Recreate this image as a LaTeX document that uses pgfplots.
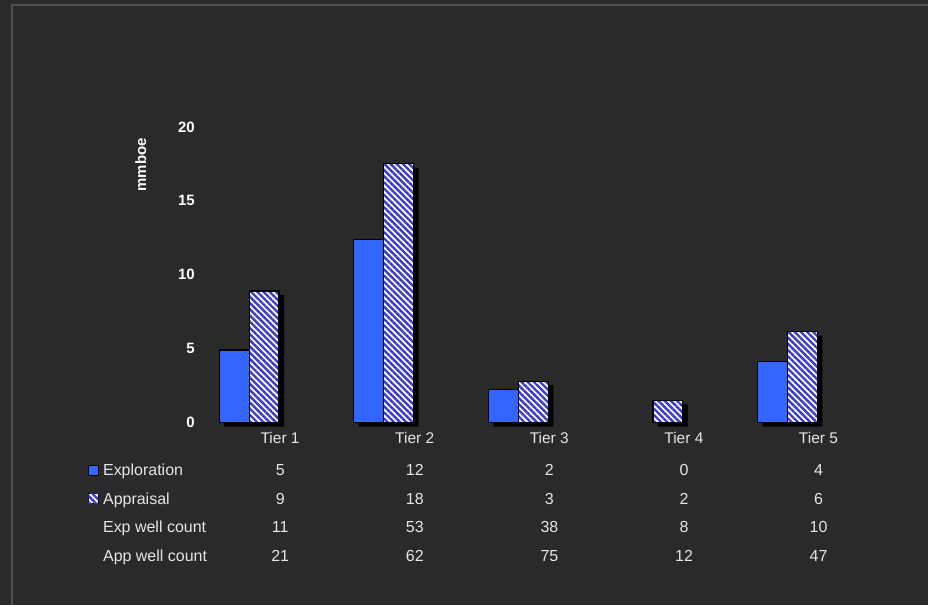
\documentclass[border=0pt]{standalone}
\usepackage{pgfplots}
\pgfplotsset{compat=1.18}
\usepackage{fontspec}
\setmainfont{Liberation Sans}
\usetikzlibrary{patterns.meta}
\definecolor{bg}{HTML}{2A2A2A}
\definecolor{frame}{HTML}{505050}
\definecolor{expblue}{HTML}{3366FF}
\definecolor{hatchblue}{RGB}{60,60,200}
\definecolor{txt}{HTML}{E6E6E6}
\tikzset{hatch/.style={fill=white, postaction={pattern={Lines[angle=-45,distance=4.4pt,line width=2.4pt]}, pattern color=hatchblue}}}
\begin{document}
\begin{tikzpicture}[x=1pt,y=1pt]
\fill[bg] (0,0) rectangle (929,606);
\draw[frame, line width=2pt] (12.5,0) -- (12.5,600.5) -- (929,600.5);
\begin{axis}[
  at={(182pt,183pt)}, anchor=south west,
  scale only axis, width=673.75pt, height=296pt,
  xmin=-0.5, xmax=4.5, ymin=0, ymax=20,
  axis line style={draw=none},
  major tick length=0pt,
  clip=false,
  ytick={0,5,10,15,20},
  xtick={0,1,2,3,4},
  xticklabels={Tier 1,Tier 2,Tier 3,Tier 4,Tier 5},
  /pgf/number format/assume math mode=true,
  yticklabel style={font=\fontsize{15}{18}\selectfont\bfseries, anchor=east, xshift=16.5pt, text=white},
  xticklabel style={font=\fontsize{15.5}{18}\selectfont, anchor=base, xshift=31pt, yshift=-20.5pt, text=txt},
]
% shadows
\addplot[ybar, bar width=30pt, bar shift=-10pt, fill=black, draw=none, yshift=-4pt]
  coordinates {(0,4.9) (1,12.4) (2,2.25) (4,4.15)};
\addplot[ybar, bar width=30pt, bar shift=20pt, fill=black, draw=none, yshift=-4pt]
  coordinates {(0,8.9) (1,17.5) (2,2.8) (3,1.5) (4,6.15)};
% Exploration
\addplot[ybar, bar width=30pt, bar shift=-15pt, fill=expblue, draw=black, line width=1.2pt]
  coordinates {(0,4.9) (1,12.4) (2,2.25) (4,4.15)};
% Appraisal
\addplot[ybar, bar width=30pt, bar shift=15pt, hatch, draw=black, line width=1.2pt]
  coordinates {(0,8.9) (1,17.5) (2,2.8) (3,1.5) (4,6.15)};
\end{axis}
\node[rotate=90, text=white, font=\fontsize{15}{18}\selectfont\bfseries] at (141,441) {mmboe};
% legend squares
\fill[expblue, draw=black, line width=1pt] (88.5,130) rectangle (98.5,140);
\filldraw[hatch, draw=black, line width=1pt] (88.5,102) rectangle (98.5,112);
% table
\begin{scope}[every node/.style={font=\fontsize{16}{19}\selectfont, text=txt, anchor=base, inner sep=0pt}]
\node[anchor=base west] at (103,130) {Exploration};
\node[anchor=base west] at (103,101) {Appraisal};
\node[anchor=base west] at (103,73) {Exp well count};
\node[anchor=base west] at (103,44) {App well count};
\foreach \v [count=\i from 0] in {5,12,2,0,4} \node at (280.5+134.75*\i,130) {\v};
\foreach \v [count=\i from 0] in {9,18,3,2,6} \node at (280.5+134.75*\i,101) {\v};
\foreach \v [count=\i from 0] in {11,53,38,8,10} \node at (280.5+134.75*\i,73) {\v};
\foreach \v [count=\i from 0] in {21,62,75,12,47} \node at (280.5+134.75*\i,44) {\v};
\end{scope}
\end{tikzpicture}
\end{document}
